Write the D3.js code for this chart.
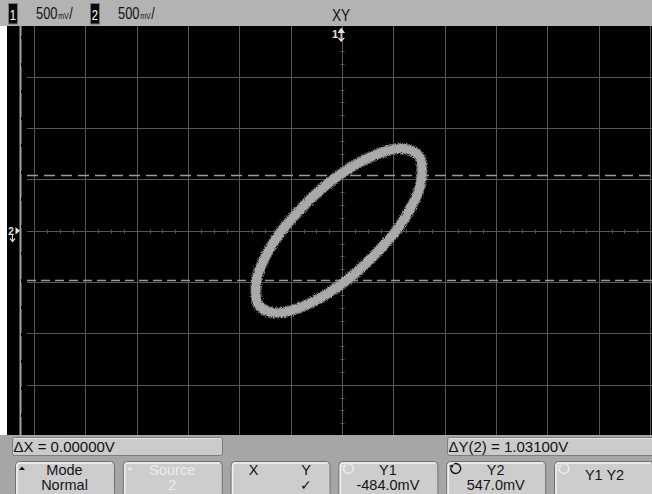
<!DOCTYPE html>
<html><head><meta charset="utf-8">
<script src="https://cdn.jsdelivr.net/npm/d3@7"></script>
<style>
html,body{margin:0;padding:0;background:#fff;}
svg{display:block;}
text{font-family:"Liberation Sans",Arial,sans-serif;}
</style></head><body>
<script>
// Channel 1 (X) and channel 2 (Y) voltages of the XY trace, in volts
const traceX = [-0.03, 0.18, 0.38, 0.55, 0.68, 0.76, 0.78, 0.76, 0.68, 0.55, 0.38, 0.18,
                -0.03, -0.24, -0.44, -0.61, -0.74, -0.82, -0.84, -0.82, -0.74, -0.61, -0.44, -0.24];
const traceY = [0.54, 0.67, 0.76, 0.80, 0.78, 0.71, 0.59, 0.43, 0.24, 0.03, -0.17, -0.37,
                -0.54, -0.67, -0.76, -0.80, -0.78, -0.71, -0.59, -0.43, -0.24, -0.03, 0.17, 0.37];

// Vertical scale settings and Y cursors (volts)
const voltsPerDiv = 0.5;
const xDivs = 12, yDivs = 8;
const cursorY1 = -0.484, cursorY2 = 0.547;
const deltaX = 0.0;

// Header labels
const channelLabels = ["1", "2"];
const channelScale = ["500", "500"];
const modeLabel = "XY";

// Softkey menu
const softkeys = [
  {top: "Mode", bottom: "Normal", icon: "tri", enabled: true},
  {top: "Source", bottom: "2", icon: "tri", enabled: false},
  {top: "X", bottom: "", icon: "xy", enabled: true},
  {top: "Y1", bottom: "-484.0mV", icon: "knob", enabled: true, knobActive: false},
  {top: "Y2", bottom: "547.0mV", icon: "knob", enabled: true, knobActive: true},
  {top: "Y1 Y2", bottom: "", icon: "knob", enabled: true, knobActive: false}
];

const W = 652, H = 494;
const screen = {left: 7, top: 26, right: 652, bottom: 435};

const svg = d3.select("body").append("svg").attr("width", W).attr("height", H);
const defs = svg.append("defs");
function roughFilter(id, freq, scale) {
  const f = defs.append("filter").attr("id", id)
    .attr("x", "-10%").attr("y", "-10%").attr("width", "120%").attr("height", "120%");
  f.append("feTurbulence").attr("type", "fractalNoise").attr("baseFrequency", freq)
    .attr("numOctaves", 2).attr("result", "n");
  f.append("feDisplacementMap").attr("in", "SourceGraphic").attr("in2", "n")
    .attr("scale", scale).attr("xChannelSelector", "R").attr("yChannelSelector", "G");
}
roughFilter("rough", 0.9, 4);
roughFilter("rough2", 1.1, 6);

// Scales: 51.33 px per division, centre of graticule at (342, 230.7)
const x = d3.scaleLinear()
  .domain([-xDivs / 2 * voltsPerDiv, xDivs / 2 * voltsPerDiv]).range([34, 650]);
const y = d3.scaleLinear()
  .domain([-yDivs / 2 * voltsPerDiv, yDivs / 2 * voltsPerDiv]).range([436, 25.4]);

// Display background
svg.append("rect").attr("x", screen.left).attr("y", 0)
  .attr("width", W - screen.left).attr("height", H).attr("fill", "#000");

// Graticule
const grid = svg.append("g").attr("stroke", "#575757").attr("stroke-width", 1);
d3.range(-xDivs / 2, xDivs / 2 + 1).forEach(i => {
  const px = Math.round(x(i * voltsPerDiv)) + 0.5;
  grid.append("line").attr("x1", px).attr("x2", px)
    .attr("y1", screen.top).attr("y2", screen.bottom);
});
d3.range(-yDivs / 2, yDivs / 2 + 1).forEach(i => {
  const py = Math.round(y(i * voltsPerDiv)) + 0.5;
  grid.append("line").attr("x1", 27).attr("x2", W)
    .attr("y1", py).attr("y2", py);
});
// Minor ticks on the centre axes (4 per division)
const cx = Math.round(x(0)) + 0.5, cy = Math.round(y(0)) + 0.5;
d3.range(-xDivs / 2 * 4, xDivs / 2 * 4 + 1).filter(k => k % 4 !== 0).forEach(k => {
  const px = Math.round(x(k * voltsPerDiv / 4)) + 0.5;
  grid.append("line").attr("x1", px).attr("x2", px).attr("y1", cy - 2).attr("y2", cy + 2);
});
d3.range(-yDivs / 2 * 4, yDivs / 2 * 4 + 1).filter(k => k % 4 !== 0).forEach(k => {
  const py = Math.round(y(k * voltsPerDiv / 4)) + 0.5;
  grid.append("line").attr("x1", cx - 2).attr("x2", cx + 2).attr("y1", py).attr("y2", py);
});

// Y cursors
[[cursorY2, "11 6"], [cursorY1, "9 5"]].forEach(([v, dash]) => {
  const py = Math.round(y(v)) + 0.5;
  svg.append("line").attr("x1", 27).attr("x2", W).attr("y1", py).attr("y2", py)
    .attr("stroke", "#9a9a9a").attr("stroke-width", 1.3).attr("stroke-dasharray", dash);
});

// X cursors (coincident, ΔX = 0) at the left of the display
svg.append("line").attr("x1", 20.5).attr("x2", 20.5).attr("y1", screen.top).attr("y2", screen.bottom)
  .attr("stroke", "#a3a3a3").attr("stroke-width", 2);
svg.append("line").attr("x1", 21.5).attr("x2", 21.5).attr("y1", screen.top + 10).attr("y2", screen.bottom)
  .attr("stroke", "#000").attr("stroke-width", 1).attr("stroke-dasharray", "3 24");

// XY trace
const pts = traceX.map((v, i) => [x(v), y(traceY[i])]);
const line = d3.line().curve(d3.curveCatmullRomClosed.alpha(0.5));
svg.append("path").attr("d", line(pts)).attr("fill", "none")
  .attr("stroke", "#8c8c8c").attr("stroke-width", 11).attr("opacity", 0.6)
  .attr("filter", "url(#rough2)");
svg.append("path").attr("d", line(pts)).attr("fill", "none")
  .attr("stroke", "#aaaaaa").attr("stroke-width", 9)
  .attr("filter", "url(#rough)");

// Ground markers
const mk = svg.append("g").attr("fill", "#e0e0e0").attr("stroke", "none");
mk.append("text").attr("x", 335).attr("y", 38).attr("font-size", 11).attr("text-anchor", "middle")
  .attr("font-weight", "bold").text(channelLabels[0]);
mk.append("path").attr("d", "M337.5,33 L345,33 L341.2,27.5 Z");
mk.append("path").attr("d", "M341.2,33 V40 M338.5,38 L341.2,41 L344,38")
  .attr("stroke", "#e0e0e0").attr("fill", "none").attr("stroke-width", 1.3);
mk.append("text").attr("x", 11).attr("y", 234.5).attr("font-size", 10).attr("text-anchor", "middle")
  .attr("font-weight", "bold").text(channelLabels[1]);
mk.append("path").attr("d", "M15.5,227 L15.5,234.5 L20,230.7 Z");
mk.append("path").attr("d", "M12.5,235 V241 M10,238.5 L12.5,241.5 L15,238.5")
  .attr("stroke", "#d0d0d0").attr("fill", "none").attr("stroke-width", 1.2);

// Left margin
svg.append("rect").attr("x", 0).attr("y", 0).attr("width", screen.left).attr("height", screen.bottom)
  .attr("fill", "#fff");

// Header bar (condensed lettering via horizontal scaling)
const sx = 0.78;
svg.append("rect").attr("x", 0).attr("y", 0).attr("width", W).attr("height", screen.top)
  .attr("fill", "#b3b3b3");
const hdr = svg.append("g");
[8.5, 90.5].forEach((bx, i) => {
  hdr.append("rect").attr("x", bx).attr("y", 3.5).attr("width", 9).attr("height", 20.5)
    .attr("fill", "#0a0a0a").attr("stroke", "#777").attr("stroke-width", 1);
  hdr.append("text").attr("transform", `translate(${bx + 4.5},20) scale(0.75,1)`)
    .attr("text-anchor", "middle").attr("font-size", 15).attr("fill", "#fff")
    .text(channelLabels[i]);
  // "500mV/" with a compact millivolt unit
  const t = hdr.append("text").attr("transform", `translate(${bx + 27.5},19) scale(${sx},1)`)
    .attr("fill", "#111");
  t.append("tspan").attr("font-size", 16.5).text(channelScale[i]);
  t.append("tspan").attr("font-size", 9).attr("dx", 1).text("mV");
  t.append("tspan").attr("font-size", 16).attr("dx", 0.5).text("/");
});
hdr.append("text").attr("transform", `translate(341,20.5) scale(0.85,1)`)
  .attr("text-anchor", "middle").attr("font-size", 16).attr("fill", "#111").text(modeLabel);

// Footer: measurement readouts and softkeys
svg.append("rect").attr("x", 0).attr("y", screen.bottom).attr("width", W).attr("height", H - screen.bottom)
  .attr("fill", "#a6a6a6");
const fmt5 = d3.format(".5f");
const readouts = [
  {x0: 12, x1: 222, label: "ΔX = " + fmt5(deltaX) + "V"},
  {x0: 447, x1: 656, label: "ΔY(2) = " + fmt5(cursorY2 - cursorY1) + "V"}
];
readouts.forEach(r => {
  svg.append("rect").attr("x", r.x0 + 0.5).attr("y", 437.5).attr("width", r.x1 - r.x0).attr("height", 18)
    .attr("rx", 2).attr("fill", "#cbcbcb").attr("stroke", "#7d7d7d");
  svg.append("line").attr("x1", r.x0 + 2).attr("x2", r.x1 - 1).attr("y1", 438.5).attr("y2", 438.5)
    .attr("stroke", "#e4e4e4");
  svg.append("text").attr("x", r.x0 + 1.5).attr("y", 452).attr("font-size", 15).attr("fill", "#111")
    .text(r.label);
});

const keyStep = 107.8, keyW = 99;
softkeys.forEach((k, i) => {
  const kx = 15 + i * keyStep, kc = kx + keyW / 2;
  const g = svg.append("g");
  g.append("rect").attr("x", kx + 0.5).attr("y", 461.5).attr("width", keyW).attr("height", 36)
    .attr("rx", 4).attr("fill", "#cdcdcd").attr("stroke", "#6f6f6f");
  g.append("path").attr("d", `M${kx + 2},${495} V${466} Q${kx + 2},${463} ${kx + 5},${463} H${kx + keyW - 2}`)
    .attr("fill", "none").attr("stroke", "#f2f2f2").attr("stroke-width", 1.5);
  const col = k.enabled ? "#151515" : "#ececec";
  if (k.icon === "tri") {
    g.append("path").attr("d", `M${kx + 4},470 L${kx + 10},470 L${kx + 7},466.5 Z`)
      .attr("fill", k.enabled ? "#111" : "#e6e6e6");
  }
  if (k.icon === "knob") {
    const ix = kx + (i === 4 ? 9.5 : 10), iy = 468.5;
    const c = k.knobActive ? "#111" : "#ececec";
    const arc = d3.arc().innerRadius(4.3).outerRadius(5.7).startAngle(-0.35).endAngle(Math.PI * 1.55);
    g.append("path").attr("transform", `translate(${ix},${iy})`).attr("d", arc()).attr("fill", c);
    g.append("path").attr("d", `M${ix - 6.5},${iy - 3.5} L${ix - 1.5},${iy - 3.5} L${ix - 4},${iy - 0.5} Z`)
      .attr("transform", `rotate(-20 ${ix - 4} ${iy - 2.5})`)
      .attr("fill", c);
  }
  const fs = 14.5;
  if (k.icon === "xy") {
    g.append("text").attr("x", kx + 23).attr("y", 475).attr("font-size", fs).attr("fill", col)
      .attr("text-anchor", "middle").text("X");
    g.append("text").attr("x", kx + 75.5).attr("y", 475).attr("font-size", fs).attr("fill", col)
      .attr("text-anchor", "middle").text("Y");
    g.append("text").attr("x", kx + 75.5).attr("y", 490).attr("font-size", 14).attr("fill", col)
      .attr("text-anchor", "middle").attr("font-family", "'DejaVu Sans',sans-serif").text("✓");
  } else if (k.bottom === "") {
    g.append("text").attr("x", kc + 1).attr("y", 480).attr("font-size", fs).attr("fill", col)
      .attr("text-anchor", "middle").text(k.top);
  } else {
    g.append("text").attr("x", kc).attr("y", 475).attr("font-size", fs).attr("fill", col)
      .attr("text-anchor", "middle").text(k.top);
    g.append("text").attr("x", kc).attr("y", 490).attr("font-size", fs).attr("fill", col)
      .attr("text-anchor", "middle").text(k.bottom);
  }
});
</script>
</body></html>
